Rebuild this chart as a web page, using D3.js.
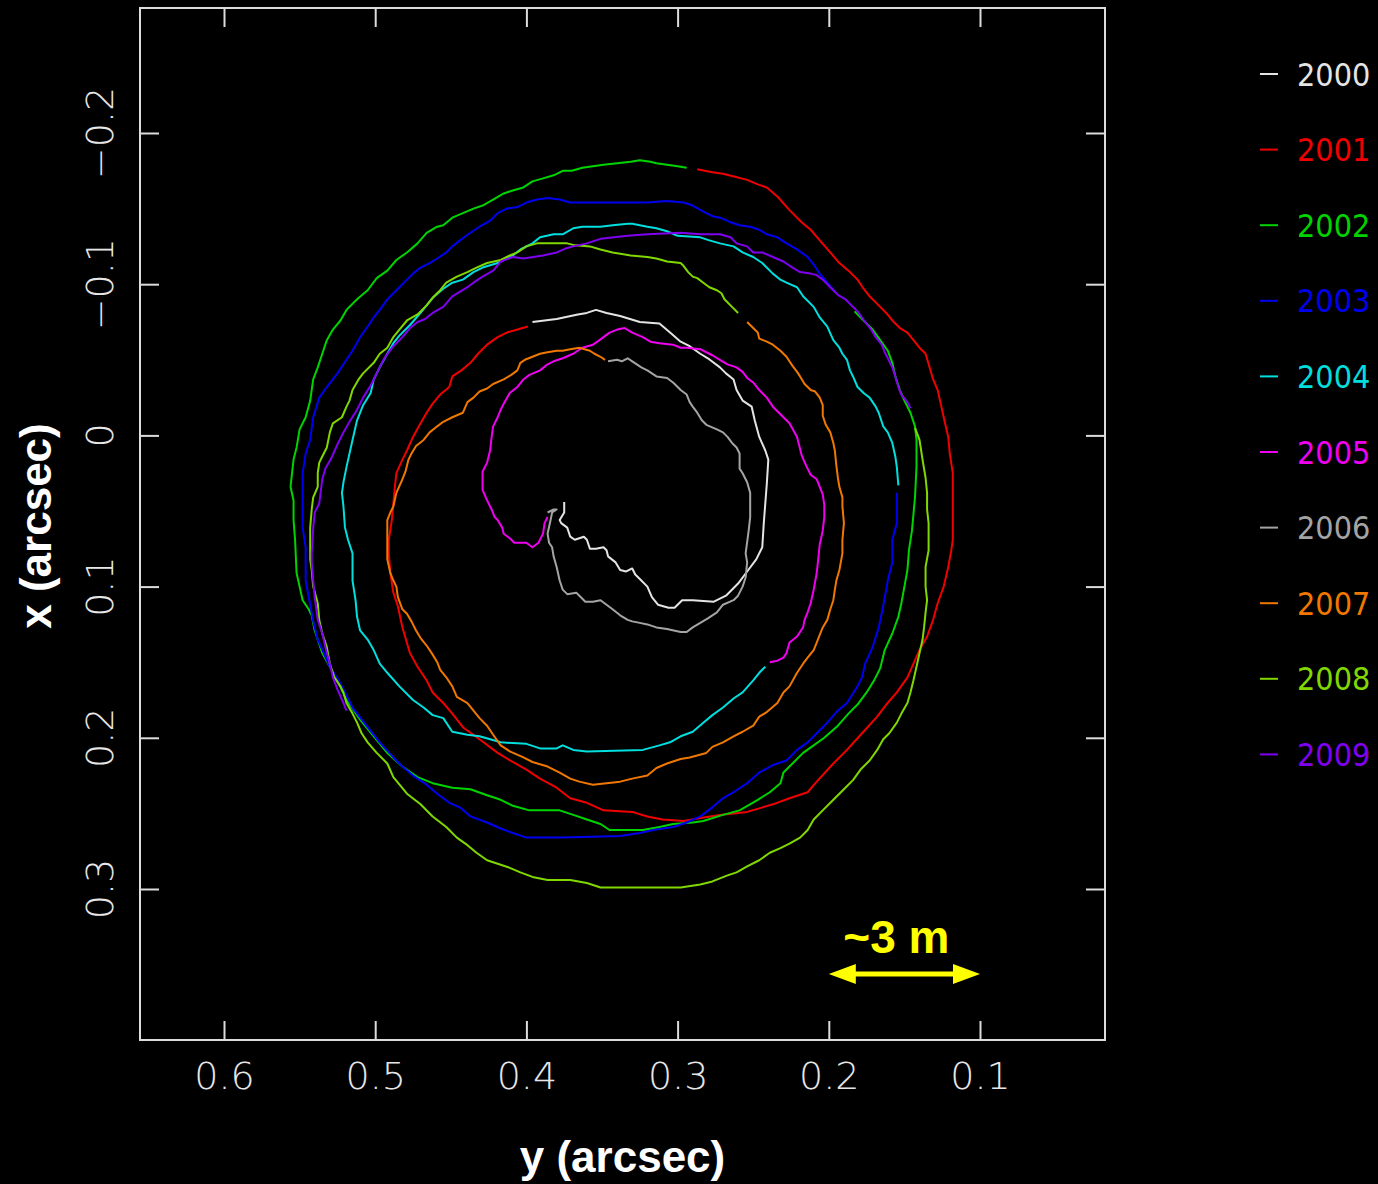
<!DOCTYPE html>
<html>
<head>
<meta charset="utf-8">
<script src="https://cdn.jsdelivr.net/npm/d3@7"></script>
<style>
  html, body { margin: 0; padding: 0; background: #000; }
  svg { display: block; }
</style>
</head>
<body>
<svg id="chart" width="1378" height="1184"></svg>
<script>
// ---------------- DATA ----------------
const years = ["2000","2001","2002","2003","2004","2005","2006","2007","2008","2009"];
const colors = ["#e4e4e4","#f00000","#00d400","#0000f0","#00dede","#f000f0","#a4a4a4","#f07800","#80d800","#8000f0"];

// horizontal axis ticks: y (arcsec), reversed
const hTickValues = [0.6, 0.5, 0.4, 0.3, 0.2, 0.1];
const hTickLabels = ["0.6", "0.5", "0.4", "0.3", "0.2", "0.1"];
// vertical axis ticks: x (arcsec)
const vTickValues = [-0.2, -0.1, 0, 0.1, 0.2, 0.3];
const vTickLabels = ["\u22120.2", "\u22120.1", "0", "0.1", "0.2", "0.3"];

const hAxisTitle = "y (arcsec)";
const vAxisTitle = "x (arcsec)";
const scaleBarLabel = "~3 m";
const scaleBarSpan = [0.2, 0.1]; // arcsec along y axis (~3 m)

// Pole path per year: y (arcsec, horizontal) and x (arcsec, vertical)
const y2000 = [0.375,0.375,0.378,0.377,0.373,0.371,0.368,0.362,0.360,0.358,0.354,0.349,0.347,0.346,0.341,0.338,0.334,0.330,0.328,0.324,0.320,0.317,0.313,0.306,0.302,0.297,0.290,0.276,0.268,0.260,0.254,0.248,0.244,0.243,0.242,0.241,0.240,0.242,0.246,0.249,0.251,0.257,0.261,0.263,0.268,0.272,0.280,0.285,0.292,0.298,0.305,0.312,0.325,0.338,0.347,0.354,0.360,0.366,0.380,0.396];
const x2000 = [0.044,0.051,0.056,0.058,0.061,0.067,0.069,0.067,0.069,0.075,0.075,0.074,0.076,0.080,0.084,0.089,0.090,0.088,0.092,0.096,0.100,0.107,0.112,0.114,0.114,0.109,0.109,0.110,0.106,0.098,0.090,0.082,0.074,0.058,0.045,0.032,0.016,0.010,0.001,-0.010,-0.019,-0.023,-0.030,-0.037,-0.041,-0.045,-0.051,-0.054,-0.059,-0.062,-0.068,-0.074,-0.075,-0.079,-0.081,-0.083,-0.081,-0.080,-0.077,-0.075];

const y2001 = [0.399,0.406,0.413,0.419,0.426,0.432,0.437,0.443,0.449,0.451,0.457,0.462,0.466,0.470,0.475,0.479,0.482,0.486,0.487,0.488,0.489,0.491,0.491,0.490,0.488,0.485,0.482,0.477,0.472,0.466,0.462,0.455,0.449,0.442,0.431,0.419,0.409,0.400,0.391,0.380,0.371,0.360,0.349,0.330,0.320,0.310,0.296,0.285,0.272,0.254,0.237,0.226,0.214,0.208,0.197,0.188,0.178,0.168,0.162,0.155,0.148,0.144,0.140,0.135,0.131,0.128,0.124,0.121,0.119,0.118,0.118,0.118,0.120,0.121,0.124,0.126,0.128,0.131,0.136,0.140,0.144,0.148,0.153,0.158,0.162,0.167,0.173,0.177,0.181,0.186,0.193,0.199,0.206,0.212,0.218,0.226,0.234,0.241,0.247,0.254,0.262,0.270,0.277,0.287];
const x2001 = [-0.072,-0.070,-0.068,-0.065,-0.060,-0.054,-0.048,-0.043,-0.039,-0.032,-0.027,-0.021,-0.015,-0.008,0.001,0.010,0.016,0.025,0.034,0.045,0.056,0.069,0.078,0.091,0.104,0.113,0.127,0.144,0.153,0.162,0.170,0.177,0.184,0.193,0.201,0.210,0.216,0.221,0.227,0.233,0.240,0.243,0.248,0.249,0.252,0.254,0.255,0.253,0.251,0.249,0.244,0.240,0.236,0.229,0.217,0.208,0.197,0.186,0.178,0.170,0.160,0.151,0.142,0.133,0.122,0.111,0.100,0.087,0.076,0.069,0.047,0.025,0.012,0.001,-0.012,-0.021,-0.030,-0.037,-0.054,-0.058,-0.063,-0.068,-0.071,-0.076,-0.081,-0.086,-0.092,-0.097,-0.103,-0.108,-0.114,-0.121,-0.129,-0.136,-0.141,-0.149,-0.158,-0.164,-0.166,-0.169,-0.171,-0.173,-0.174,-0.176];

const y2002 = [0.294,0.300,0.307,0.314,0.318,0.325,0.331,0.340,0.349,0.356,0.363,0.370,0.376,0.382,0.389,0.396,0.402,0.409,0.415,0.422,0.429,0.435,0.442,0.449,0.455,0.459,0.466,0.472,0.479,0.486,0.492,0.499,0.505,0.512,0.519,0.523,0.528,0.532,0.535,0.538,0.541,0.543,0.546,0.550,0.552,0.554,0.555,0.556,0.554,0.554,0.553,0.552,0.550,0.548,0.544,0.542,0.540,0.538,0.535,0.530,0.525,0.519,0.510,0.501,0.492,0.482,0.472,0.462,0.449,0.437,0.426,0.417,0.409,0.398,0.378,0.369,0.360,0.351,0.345,0.323,0.312,0.303,0.290,0.283,0.270,0.259,0.247,0.239,0.232,0.230,0.224,0.217,0.210,0.203,0.194,0.187,0.181,0.175,0.170,0.166,0.163,0.158,0.154,0.152,0.150,0.148,0.147,0.145,0.143,0.142,0.142,0.143,0.146,0.150,0.153,0.156,0.158,0.161,0.166,0.171,0.176,0.183];
const x2002 = [-0.177,-0.178,-0.179,-0.180,-0.181,-0.182,-0.181,-0.180,-0.179,-0.178,-0.177,-0.175,-0.175,-0.172,-0.170,-0.168,-0.164,-0.162,-0.160,-0.156,-0.152,-0.150,-0.147,-0.144,-0.139,-0.138,-0.134,-0.127,-0.121,-0.116,-0.109,-0.104,-0.096,-0.090,-0.083,-0.076,-0.070,-0.063,-0.054,-0.045,-0.037,-0.023,-0.012,-0.004,0.008,0.016,0.025,0.034,0.043,0.056,0.069,0.091,0.100,0.109,0.115,0.119,0.129,0.135,0.144,0.153,0.162,0.175,0.188,0.199,0.210,0.219,0.226,0.230,0.233,0.234,0.238,0.241,0.245,0.248,0.248,0.251,0.254,0.257,0.261,0.261,0.259,0.257,0.256,0.255,0.251,0.248,0.241,0.236,0.230,0.223,0.217,0.210,0.205,0.200,0.192,0.184,0.178,0.170,0.162,0.154,0.142,0.131,0.120,0.111,0.100,0.089,0.076,0.063,0.041,0.021,0.003,-0.006,-0.015,-0.023,-0.030,-0.039,-0.048,-0.056,-0.063,-0.070,-0.075,-0.082];

const y2003 = [0.196,0.201,0.206,0.210,0.214,0.221,0.228,0.234,0.241,0.246,0.252,0.259,0.265,0.272,0.277,0.283,0.290,0.296,0.307,0.320,0.343,0.360,0.371,0.378,0.386,0.393,0.400,0.406,0.413,0.419,0.424,0.431,0.437,0.444,0.449,0.453,0.459,0.464,0.470,0.475,0.479,0.484,0.488,0.492,0.497,0.501,0.505,0.510,0.515,0.519,0.525,0.532,0.537,0.541,0.543,0.546,0.548,0.548,0.548,0.546,0.546,0.543,0.541,0.538,0.530,0.523,0.515,0.505,0.497,0.488,0.482,0.475,0.466,0.459,0.451,0.444,0.437,0.426,0.417,0.409,0.400,0.376,0.338,0.325,0.316,0.303,0.294,0.285,0.277,0.270,0.263,0.254,0.246,0.237,0.228,0.221,0.214,0.208,0.201,0.195,0.188,0.181,0.178,0.176,0.171,0.167,0.164,0.161,0.158,0.158,0.155,0.155];
const x2003 = [-0.095,-0.101,-0.107,-0.113,-0.118,-0.123,-0.127,-0.131,-0.133,-0.136,-0.138,-0.139,-0.141,-0.144,-0.145,-0.148,-0.152,-0.154,-0.155,-0.154,-0.154,-0.154,-0.154,-0.156,-0.157,-0.156,-0.154,-0.151,-0.150,-0.147,-0.142,-0.138,-0.134,-0.129,-0.125,-0.121,-0.117,-0.114,-0.111,-0.107,-0.103,-0.098,-0.094,-0.090,-0.083,-0.078,-0.072,-0.065,-0.056,-0.050,-0.041,-0.032,-0.025,-0.012,0.003,0.012,0.025,0.047,0.061,0.074,0.096,0.112,0.123,0.135,0.153,0.164,0.180,0.193,0.203,0.213,0.219,0.225,0.231,0.237,0.243,0.246,0.252,0.256,0.260,0.263,0.266,0.266,0.265,0.263,0.261,0.259,0.256,0.252,0.246,0.240,0.236,0.230,0.223,0.218,0.215,0.208,0.203,0.197,0.190,0.183,0.177,0.166,0.160,0.151,0.140,0.127,0.113,0.096,0.084,0.069,0.058,0.038];

const y2004 = [0.154,0.155,0.156,0.158,0.161,0.164,0.167,0.169,0.173,0.177,0.181,0.184,0.186,0.188,0.191,0.193,0.197,0.201,0.206,0.210,0.217,0.221,0.228,0.232,0.237,0.244,0.250,0.257,0.263,0.272,0.279,0.285,0.300,0.307,0.314,0.320,0.330,0.333,0.343,0.351,0.363,0.369,0.376,0.382,0.391,0.396,0.404,0.409,0.415,0.419,0.429,0.435,0.442,0.449,0.455,0.462,0.466,0.470,0.477,0.484,0.488,0.492,0.497,0.501,0.503,0.508,0.512,0.515,0.517,0.519,0.521,0.522,0.521,0.520,0.518,0.515,0.515,0.513,0.512,0.510,0.505,0.501,0.497,0.492,0.484,0.475,0.468,0.462,0.455,0.449,0.439,0.431,0.417,0.400,0.391,0.380,0.376,0.369,0.360,0.323,0.312,0.305,0.298,0.290,0.283,0.277,0.270,0.263,0.257,0.250,0.246,0.242];
const x2004 = [0.033,0.021,0.014,0.005,-0.002,-0.006,-0.015,-0.019,-0.025,-0.028,-0.032,-0.039,-0.043,-0.050,-0.054,-0.058,-0.063,-0.072,-0.078,-0.085,-0.092,-0.098,-0.101,-0.103,-0.107,-0.114,-0.118,-0.121,-0.125,-0.127,-0.129,-0.131,-0.132,-0.135,-0.137,-0.138,-0.140,-0.140,-0.139,-0.138,-0.138,-0.137,-0.133,-0.133,-0.131,-0.127,-0.123,-0.119,-0.116,-0.114,-0.111,-0.108,-0.103,-0.101,-0.097,-0.091,-0.086,-0.081,-0.073,-0.066,-0.061,-0.054,-0.045,-0.037,-0.028,-0.020,-0.010,0.003,0.012,0.021,0.031,0.038,0.047,0.061,0.069,0.078,0.096,0.109,0.120,0.129,0.135,0.142,0.151,0.157,0.166,0.175,0.180,0.185,0.187,0.196,0.198,0.199,0.203,0.204,0.207,0.207,0.205,0.208,0.209,0.208,0.205,0.203,0.199,0.196,0.190,0.185,0.180,0.174,0.170,0.162,0.157,0.153];

const y2005 = [0.239,0.234,0.230,0.228,0.226,0.221,0.217,0.216,0.214,0.212,0.210,0.208,0.207,0.206,0.204,0.203,0.203,0.204,0.206,0.208,0.212,0.215,0.218,0.220,0.221,0.226,0.230,0.237,0.241,0.246,0.250,0.254,0.257,0.261,0.267,0.272,0.277,0.281,0.285,0.294,0.298,0.303,0.312,0.318,0.323,0.330,0.335,0.340,0.345,0.349,0.353,0.356,0.363,0.369,0.376,0.382,0.386,0.391,0.398,0.402,0.406,0.411,0.415,0.417,0.419,0.422,0.423,0.424,0.426,0.429,0.429,0.429,0.426,0.423,0.421,0.419,0.416,0.415,0.411,0.408,0.400,0.396,0.392,0.389,0.388,0.386];
const x2005 = [0.150,0.149,0.147,0.144,0.137,0.133,0.127,0.122,0.117,0.111,0.102,0.091,0.082,0.072,0.063,0.054,0.046,0.039,0.034,0.029,0.026,0.020,0.013,0.005,0.001,-0.008,-0.012,-0.019,-0.025,-0.030,-0.035,-0.038,-0.042,-0.045,-0.047,-0.050,-0.053,-0.055,-0.057,-0.058,-0.058,-0.060,-0.061,-0.062,-0.065,-0.068,-0.071,-0.070,-0.068,-0.065,-0.062,-0.060,-0.058,-0.054,-0.051,-0.049,-0.047,-0.043,-0.040,-0.037,-0.032,-0.028,-0.021,-0.017,-0.012,-0.006,0.001,0.010,0.018,0.024,0.028,0.036,0.043,0.049,0.054,0.056,0.061,0.065,0.068,0.071,0.071,0.074,0.071,0.065,0.058,0.054];

const y2006 = [0.386,0.382,0.380,0.383,0.384,0.386,0.385,0.383,0.382,0.380,0.378,0.376,0.373,0.367,0.365,0.361,0.356,0.351,0.347,0.343,0.338,0.333,0.330,0.325,0.320,0.314,0.307,0.298,0.294,0.290,0.285,0.280,0.274,0.270,0.263,0.260,0.257,0.255,0.254,0.255,0.253,0.252,0.252,0.254,0.257,0.259,0.259,0.261,0.264,0.267,0.270,0.274,0.281,0.284,0.287,0.290,0.292,0.294,0.298,0.303,0.307,0.314,0.317,0.320,0.324,0.330,0.333,0.337,0.340,0.346];
const x2006 = [0.051,0.049,0.049,0.051,0.056,0.065,0.071,0.074,0.080,0.087,0.096,0.102,0.105,0.104,0.106,0.110,0.110,0.109,0.112,0.115,0.119,0.122,0.123,0.124,0.125,0.127,0.128,0.130,0.130,0.127,0.124,0.121,0.117,0.112,0.109,0.106,0.100,0.094,0.084,0.078,0.063,0.054,0.038,0.031,0.025,0.022,0.012,0.008,0.005,0.001,-0.002,-0.004,-0.007,-0.010,-0.015,-0.019,-0.022,-0.027,-0.030,-0.035,-0.038,-0.039,-0.041,-0.043,-0.045,-0.049,-0.051,-0.049,-0.050,-0.049];

const y2007 = [0.348,0.351,0.355,0.358,0.365,0.371,0.376,0.380,0.386,0.391,0.396,0.401,0.404,0.406,0.410,0.415,0.422,0.426,0.431,0.435,0.439,0.442,0.449,0.455,0.459,0.464,0.468,0.473,0.476,0.478,0.480,0.482,0.486,0.488,0.490,0.492,0.492,0.492,0.490,0.488,0.486,0.485,0.482,0.479,0.476,0.473,0.470,0.466,0.462,0.459,0.457,0.453,0.449,0.446,0.439,0.435,0.431,0.426,0.422,0.417,0.411,0.402,0.396,0.386,0.378,0.371,0.365,0.356,0.347,0.338,0.330,0.320,0.314,0.307,0.298,0.292,0.281,0.277,0.270,0.263,0.257,0.250,0.246,0.241,0.234,0.230,0.226,0.221,0.217,0.214,0.210,0.208,0.206,0.204,0.201,0.199,0.197,0.196,0.195,0.193,0.191,0.191,0.190,0.191,0.191,0.193,0.194,0.195,0.196,0.197,0.199,0.202,0.204,0.204,0.206,0.209,0.212,0.216,0.219,0.221,0.224,0.228,0.232,0.237,0.241,0.246,0.247,0.254];
const x2007 = [-0.050,-0.052,-0.054,-0.056,-0.058,-0.057,-0.056,-0.056,-0.055,-0.054,-0.052,-0.050,-0.048,-0.043,-0.040,-0.037,-0.034,-0.031,-0.029,-0.025,-0.022,-0.015,-0.012,-0.009,-0.006,-0.002,0.003,0.007,0.012,0.016,0.024,0.029,0.038,0.047,0.051,0.056,0.069,0.082,0.091,0.096,0.100,0.107,0.115,0.118,0.123,0.129,0.134,0.139,0.145,0.150,0.155,0.160,0.166,0.173,0.177,0.182,0.187,0.192,0.198,0.205,0.209,0.213,0.216,0.219,0.223,0.227,0.229,0.231,0.230,0.229,0.227,0.225,0.220,0.217,0.214,0.213,0.210,0.206,0.203,0.199,0.196,0.192,0.186,0.183,0.177,0.170,0.166,0.157,0.151,0.147,0.142,0.137,0.132,0.127,0.122,0.115,0.109,0.102,0.096,0.089,0.078,0.069,0.058,0.047,0.041,0.034,0.028,0.020,0.010,0.005,-0.002,-0.007,-0.013,-0.020,-0.025,-0.029,-0.030,-0.034,-0.039,-0.042,-0.046,-0.052,-0.056,-0.060,-0.062,-0.064,-0.068,-0.075];

const y2008 = [0.260,0.263,0.265,0.269,0.271,0.274,0.279,0.283,0.287,0.290,0.293,0.296,0.298,0.307,0.314,0.320,0.331,0.343,0.351,0.358,0.369,0.373,0.393,0.400,0.406,0.411,0.417,0.426,0.433,0.439,0.446,0.453,0.457,0.462,0.466,0.472,0.479,0.484,0.488,0.492,0.497,0.501,0.508,0.511,0.515,0.517,0.519,0.522,0.528,0.530,0.532,0.535,0.537,0.538,0.538,0.541,0.542,0.543,0.543,0.542,0.541,0.538,0.537,0.535,0.532,0.530,0.527,0.523,0.521,0.519,0.515,0.512,0.509,0.505,0.499,0.492,0.488,0.479,0.470,0.462,0.453,0.446,0.439,0.433,0.426,0.417,0.411,0.404,0.396,0.386,0.371,0.360,0.351,0.298,0.285,0.277,0.267,0.261,0.254,0.246,0.239,0.232,0.226,0.219,0.214,0.210,0.204,0.197,0.191,0.184,0.179,0.173,0.168,0.164,0.160,0.155,0.152,0.148,0.146,0.144,0.142,0.140,0.138,0.137,0.136,0.135,0.136,0.136,0.134,0.134,0.135,0.135,0.136,0.138,0.140,0.143];
const x2008 = [-0.081,-0.084,-0.086,-0.090,-0.094,-0.096,-0.098,-0.101,-0.104,-0.105,-0.108,-0.112,-0.114,-0.115,-0.117,-0.118,-0.119,-0.121,-0.123,-0.125,-0.126,-0.127,-0.127,-0.125,-0.121,-0.119,-0.116,-0.114,-0.111,-0.108,-0.105,-0.101,-0.096,-0.091,-0.086,-0.080,-0.076,-0.070,-0.065,-0.058,-0.054,-0.048,-0.041,-0.037,-0.030,-0.023,-0.019,-0.012,-0.008,-0.002,0.008,0.014,0.018,0.025,0.034,0.041,0.049,0.061,0.082,0.089,0.100,0.111,0.122,0.131,0.140,0.151,0.160,0.166,0.170,0.177,0.184,0.190,0.197,0.203,0.210,0.217,0.226,0.237,0.244,0.252,0.259,0.266,0.271,0.276,0.281,0.284,0.286,0.289,0.292,0.294,0.294,0.296,0.299,0.299,0.297,0.295,0.291,0.289,0.285,0.281,0.276,0.273,0.270,0.266,0.261,0.254,0.248,0.241,0.235,0.228,0.221,0.215,0.208,0.201,0.197,0.190,0.184,0.177,0.170,0.162,0.153,0.144,0.135,0.127,0.117,0.109,0.100,0.087,0.076,0.058,0.049,0.038,0.028,0.016,0.003,-0.005];

const y2009 = [0.146,0.148,0.152,0.154,0.156,0.158,0.161,0.163,0.165,0.169,0.172,0.176,0.181,0.185,0.189,0.194,0.199,0.204,0.208,0.212,0.219,0.224,0.230,0.237,0.244,0.250,0.254,0.261,0.265,0.272,0.285,0.298,0.320,0.333,0.351,0.360,0.369,0.373,0.380,0.389,0.402,0.409,0.417,0.422,0.429,0.435,0.439,0.449,0.455,0.462,0.467,0.472,0.477,0.482,0.488,0.494,0.498,0.503,0.508,0.512,0.517,0.521,0.525,0.529,0.533,0.535,0.537,0.540,0.541,0.542,0.542,0.541,0.540,0.538,0.535,0.532,0.530,0.528,0.525,0.521,0.519];
const x2009 = [-0.018,-0.022,-0.027,-0.032,-0.039,-0.045,-0.051,-0.055,-0.060,-0.065,-0.070,-0.075,-0.082,-0.086,-0.090,-0.093,-0.098,-0.103,-0.106,-0.107,-0.108,-0.111,-0.115,-0.118,-0.121,-0.121,-0.125,-0.127,-0.131,-0.133,-0.133,-0.134,-0.133,-0.132,-0.130,-0.127,-0.125,-0.124,-0.121,-0.119,-0.117,-0.118,-0.115,-0.109,-0.105,-0.101,-0.098,-0.092,-0.085,-0.081,-0.077,-0.075,-0.071,-0.065,-0.059,-0.051,-0.043,-0.033,-0.025,-0.017,-0.009,-0.002,0.006,0.015,0.022,0.029,0.045,0.051,0.061,0.078,0.084,0.096,0.107,0.122,0.131,0.144,0.151,0.160,0.168,0.177,0.182];

const seriesY = [y2000, y2001, y2002, y2003, y2004, y2005, y2006, y2007, y2008, y2009];
const seriesX = [x2000, x2001, x2002, x2003, x2004, x2005, x2006, x2007, x2008, x2009];

// ---------------- LAYOUT ----------------
const W = 1378, H = 1184;
const frame = { left: 140, top: 8, right: 1105, bottom: 1040 };
const tickLen = 19;
const frameColor = "#dcdcdc";
const textColor = "#e6e6e6";
const tickFont = "'DejaVu Sans', 'Noto Sans', sans-serif";
const titleFont = "'Liberation Sans', Arial, sans-serif";

const svg = d3.select("#chart");
svg.append("rect").attr("width", W).attr("height", H).attr("fill", "#000");

// scales: horizontal = y (arcsec) reversed, vertical = x (arcsec) increasing downward
const hScale = d3.scaleLinear().domain([0.65556, 0.01733]).range([frame.left, frame.right]);
const vScale = d3.scaleLinear().domain([-0.28267, 0.39987]).range([frame.top, frame.bottom]);

// ---------------- DATA PATHS ----------------
const lineGen = d3.line().x(d => hScale(d[0])).y(d => vScale(d[1]));
const gData = svg.append("g");
years.forEach((yr, i) => {
  const pts = d3.zip(seriesY[i], seriesX[i]);
  gData.append("path")
    .attr("d", lineGen(pts))
    .attr("fill", "none")
    .attr("stroke", colors[i])
    .attr("stroke-width", 2)
    .attr("stroke-linejoin", "round")
    .attr("stroke-linecap", "butt");
});

// ---------------- AXES ----------------
function styleAxis(g) {
  g.select(".domain").remove();
  g.selectAll(".tick line").attr("stroke", frameColor).attr("stroke-width", 2);
}
const gBottom = svg.append("g")
  .attr("transform", `translate(0,${frame.bottom})`)
  .call(d3.axisBottom(hScale).tickValues(hTickValues)
    .tickFormat((d, i) => hTickLabels[i]).tickSize(-tickLen).tickSizeOuter(0).tickPadding(22));
styleAxis(gBottom);
gBottom.selectAll(".tick text")
  .attr("fill", textColor).attr("font-family", tickFont)
  .attr("font-size", 38).attr("font-weight", 200);

const gTop = svg.append("g")
  .attr("transform", `translate(0,${frame.top})`)
  .call(d3.axisTop(hScale).tickValues(hTickValues).tickFormat("").tickSize(-tickLen).tickSizeOuter(0));
styleAxis(gTop);

const gLeft = svg.append("g")
  .attr("transform", `translate(${frame.left},0)`)
  .call(d3.axisLeft(vScale).tickValues(vTickValues).tickFormat("").tickSize(-tickLen).tickSizeOuter(0));
styleAxis(gLeft);

const gRight = svg.append("g")
  .attr("transform", `translate(${frame.right},0)`)
  .call(d3.axisRight(vScale).tickValues(vTickValues).tickFormat("").tickSize(-tickLen).tickSizeOuter(0));
styleAxis(gRight);

// rotated vertical tick labels
const gVLabels = svg.append("g");
vTickValues.forEach((v, i) => {
  gVLabels.append("text")
    .attr("transform", `translate(113,${vScale(v)}) rotate(-90)`)
    .attr("text-anchor", "middle")
    .attr("fill", textColor)
    .attr("font-family", tickFont)
    .attr("font-size", 38)
    .attr("font-weight", 200)
    .text(vTickLabels[i]);
});

// frame
svg.append("rect")
  .attr("x", frame.left).attr("y", frame.top)
  .attr("width", frame.right - frame.left).attr("height", frame.bottom - frame.top)
  .attr("fill", "none").attr("stroke", frameColor).attr("stroke-width", 2);

// axis titles
svg.append("text")
  .attr("x", (frame.left + frame.right) / 2).attr("y", 1172)
  .attr("text-anchor", "middle")
  .attr("fill", "#ffffff").attr("font-family", titleFont)
  .attr("font-size", 44).attr("font-weight", "bold")
  .text(hAxisTitle);
svg.append("text")
  .attr("transform", `translate(51,526) rotate(-90)`)
  .attr("text-anchor", "middle")
  .attr("fill", "#ffffff").attr("font-family", titleFont)
  .attr("font-size", 44).attr("font-weight", "bold")
  .text(vAxisTitle);

// ---------------- LEGEND ----------------
const gLegend = svg.append("g");
years.forEach((yr, i) => {
  const cy = 74 + i * 75.6;
  gLegend.append("line")
    .attr("x1", 1260).attr("x2", 1278).attr("y1", cy).attr("y2", cy)
    .attr("stroke", colors[i]).attr("stroke-width", 2);
  gLegend.append("text")
    .attr("x", 1297).attr("y", cy + 11.5)
    .attr("fill", colors[i])
    .attr("font-family", "'DejaVu Sans Condensed', 'DejaVu Sans', sans-serif")
    .attr("font-stretch", "condensed")
    .attr("font-size", 32).attr("font-weight", 200)
    .text(yr);
});

// ---------------- SCALE BAR ----------------
const sbX1 = hScale(scaleBarSpan[0]);
const sbX2 = hScale(scaleBarSpan[1]);
const sbY = 974;
const yellow = "#ffff00";
const headLen = 27, headHalf = 10;
svg.append("line")
  .attr("x1", sbX1 + headLen - 2).attr("x2", sbX2 - headLen + 2)
  .attr("y1", sbY).attr("y2", sbY)
  .attr("stroke", yellow).attr("stroke-width", 5);
svg.append("path")
  .attr("d", `M${sbX1},${sbY} L${sbX1 + headLen},${sbY - headHalf} L${sbX1 + headLen},${sbY + headHalf} Z`)
  .attr("fill", yellow);
svg.append("path")
  .attr("d", `M${sbX2},${sbY} L${sbX2 - headLen},${sbY - headHalf} L${sbX2 - headLen},${sbY + headHalf} Z`)
  .attr("fill", yellow);
svg.append("text")
  .attr("x", (sbX1 + sbX2) / 2 - 8).attr("y", 953)
  .attr("text-anchor", "middle")
  .attr("fill", yellow).attr("font-family", titleFont)
  .attr("font-size", 46).attr("font-weight", "bold")
  .text(scaleBarLabel);
</script>
</body>
</html>
